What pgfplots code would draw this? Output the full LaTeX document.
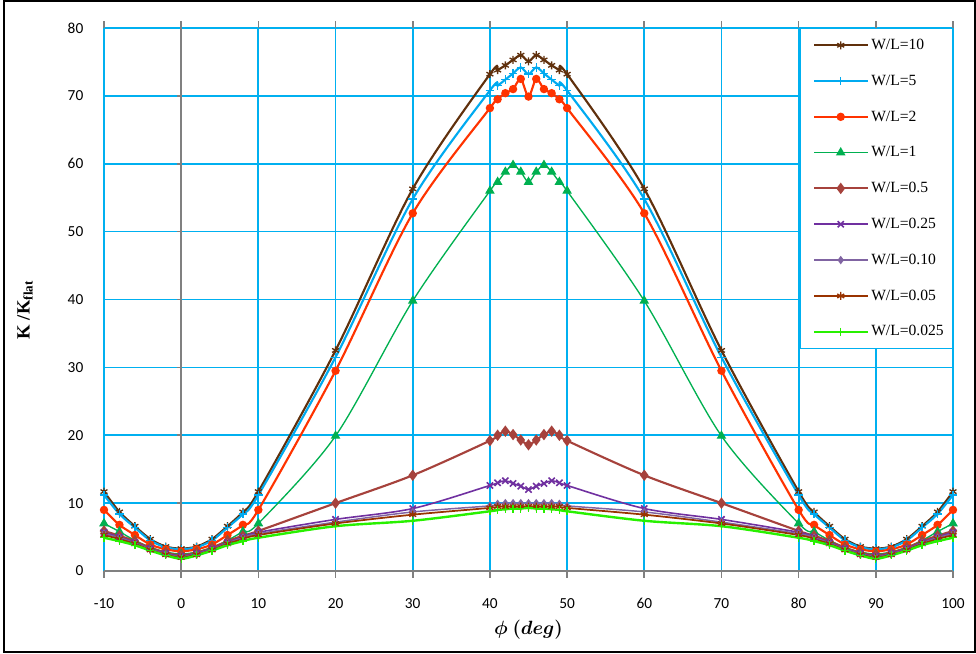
\documentclass[border=0pt]{standalone}
\usepackage{pgfplots}
\usepackage{pgfplotstable}
\pgfplotsset{compat=1.18}
\usepackage{amsmath}
\usepackage{fontspec}
\setmainfont{Liberation Serif}
\newfontfamily\carlito{Carlito}

\definecolor{gridblue}{RGB}{0,176,240}
\definecolor{cA}{RGB}{96,48,12}
\definecolor{cB}{RGB}{0,170,240}
\definecolor{cC}{RGB}{255,51,0}
\definecolor{cD}{RGB}{0,176,80}
\definecolor{cE}{RGB}{166,66,60}
\definecolor{cF}{RGB}{112,48,160}
\definecolor{cG}{RGB}{128,100,162}
\definecolor{cH}{RGB}{153,51,0}
\definecolor{cI}{RGB}{40,240,0}

% phi, then W/L = 10, 5, 2, 1, 0.5, 0.25, 0.10, 0.05, 0.025
\pgfplotstableread{
x    a     b     c     d     e     f     g     h     i
-10  11.7  11.2  9.0   7.0   5.9   5.7   5.5   5.3   4.9
-8   8.7   8.4   6.8   5.8   5.2   5.0   4.9   4.7   4.4
-6   6.6   6.4   5.3   4.5   4.4   4.2   4.1   4.0   3.8
-4   4.7   4.5   3.9   3.5   3.4   3.3   3.2   3.1   3.0
-2   3.6   3.5   3.2   2.8   2.7   2.6   2.5   2.4   2.3
0    3.3   3.2   2.9   2.5   2.3   2.2   2.1   2.0   1.8
2    3.6   3.5   3.2   2.8   2.7   2.6   2.5   2.4   2.3
4    4.7   4.5   3.9   3.5   3.4   3.3   3.2   3.1   3.0
6    6.6   6.4   5.3   4.5   4.4   4.2   4.1   4.0   3.8
8    8.7   8.4   6.8   5.8   5.2   5.0   4.9   4.7   4.4
10   11.7  11.2  9.0   7.0   5.9   5.7   5.5   5.3   4.9
20   32.5  31.5  29.5  19.9  10.0  7.6   7.2   7.0   6.6
30   56.3  54.8  52.7  39.8  14.1  9.2   8.7   8.3   7.4
40   73.2  70.8  68.2  56.0  19.2  12.6  9.6   9.3   8.8
41   73.8  71.5  69.5  57.3  20.0  13.0  9.9   9.5   9.0
42   74.5  72.4  70.4  58.8  20.6  13.3  10.0  9.5   9.1
43   75.3  73.3  71.0  59.8  20.1  12.9  10.0  9.5   9.2
44   76.0  74.2  72.5  58.8  19.3  12.5  10.0  9.5   9.2
45   75.1  73.2  69.9  57.3  18.6  12.0  10.0  9.5   9.3
46   76.0  74.2  72.5  58.8  19.3  12.5  10.0  9.5   9.2
47   75.3  73.3  71.0  59.8  20.1  12.9  10.0  9.5   9.2
48   74.5  72.4  70.4  58.8  20.6  13.3  10.0  9.5   9.1
49   73.8  71.5  69.5  57.3  20.0  13.0  9.9   9.5   9.0
50   73.2  70.8  68.2  56.0  19.2  12.6  9.6   9.3   8.8
60   56.3  54.8  52.7  39.8  14.1  9.2   8.7   8.3   7.4
70   32.5  31.5  29.5  19.9  10.0  7.6   7.2   7.0   6.6
80   11.7  11.2  9.0   7.0   5.9   5.7   5.5   5.3   4.9
82   8.7   8.4   6.8   5.8   5.2   5.0   4.9   4.7   4.4
84   6.6   6.4   5.3   4.5   4.4   4.2   4.1   4.0   3.8
86   4.7   4.5   3.9   3.5   3.4   3.3   3.2   3.1   3.0
88   3.6   3.5   3.2   2.8   2.7   2.6   2.5   2.4   2.3
90   3.3   3.2   2.9   2.5   2.3   2.2   2.1   2.0   1.8
92   3.6   3.5   3.2   2.8   2.7   2.6   2.5   2.4   2.3
94   4.7   4.5   3.9   3.5   3.4   3.3   3.2   3.1   3.0
96   6.6   6.4   5.3   4.5   4.4   4.2   4.1   4.0   3.8
98   8.7   8.4   6.8   5.8   5.2   5.0   4.9   4.7   4.4
100  11.7  11.2  9.0   7.0   5.9   5.7   5.5   5.3   4.9
}\kdata

\begin{document}
\begin{tikzpicture}
\path[use as bounding box] (0pt,0pt) rectangle (732pt,490.5pt);
\draw[black,line width=1pt] (3pt,1.5pt) rectangle (731.25pt,489.75pt);

\begin{axis}[
    at={(78pt,62.25pt)},
    anchor=south west,
    scale only axis,
    width=636.75pt,
    height=407.25pt,
    xmin=-10, xmax=100,
    ymin=0, ymax=80,
    xtick={-10,0,10,20,30,40,50,60,70,80,90,100},
    xticklabels={-10,0,10,20,30,40,50,60,70,80,90,100},
    ytick={0,10,20,30,40,50,60,70,80},
    yticklabels={0,10,20,30,40,50,60,70,80},
    grid=major,
    major grid style={color=gridblue,line width=1.3pt},
    axis line style={color=white,opacity=0},
    tick align=outside,
    major tick length=5pt,
    xtick style={color=gray,line width=1.2pt},
    ytick style={opacity=0},
    ticklabel style={font=\carlito\fontsize{11.5}{13}\selectfont},
    xticklabel style={yshift=-12pt},
    yticklabel style={xshift=-7pt},
    xlabel={$\boldsymbol{\phi}\ \boldsymbol{(deg)}$},
    xlabel style={font=\fontsize{14}{16}\selectfont,
        at={(axis description cs:0.5,0)},anchor=center,yshift=-44pt},
    legend style={
        at={(1,1)},anchor=north east,
        draw=gridblue,line width=0.6pt,fill=white,
        font=\fontsize{11.7}{13}\selectfont,
        row sep=13.6pt,inner xsep=9pt,inner ysep=6pt,
        nodes={text width=50pt}
    },
    legend cell align=left,
    legend image code/.code={%
        \draw[mark repeat=2,mark phase=2]
          plot coordinates {(0pt,0pt) (20pt,0pt) (40pt,0pt)};},
]
\draw[gray,line width=1.2pt] (axis cs:-10,0) -- (axis cs:100,0);
\draw[gray,line width=1.2pt] (axis cs:0,0) -- (axis cs:0,80);
\draw[gray,line width=1.2pt] ([xshift=-3pt]axis cs:0,10) -- (axis cs:0,10);
\draw[gray,line width=1.2pt] ([xshift=-3pt]axis cs:0,20) -- (axis cs:0,20);
\draw[gray,line width=1.2pt] ([xshift=-3pt]axis cs:0,30) -- (axis cs:0,30);
\draw[gray,line width=1.2pt] ([xshift=-3pt]axis cs:0,40) -- (axis cs:0,40);
\draw[gray,line width=1.2pt] ([xshift=-3pt]axis cs:0,50) -- (axis cs:0,50);
\draw[gray,line width=1.2pt] ([xshift=-3pt]axis cs:0,60) -- (axis cs:0,60);
\draw[gray,line width=1.2pt] ([xshift=-3pt]axis cs:0,70) -- (axis cs:0,70);

\addplot[color=cA,smooth,line width=1.6pt,mark=asterisk,mark size=3pt,
  mark options={solid,line width=1pt}] table[x=x,y=a] {\kdata};
\addlegendentry{{W/L=10}}
\addplot[color=cB,smooth,line width=1.6pt,mark=+,mark size=3.2pt,
  mark options={solid,line width=1pt}] table[x=x,y=b] {\kdata};
\addlegendentry{{W/L=5}}
\addplot[color=cC,smooth,line width=1.6pt,mark=*,mark size=2.3pt] table[x=x,y=c] {\kdata};
\addlegendentry{{W/L=2}}
\addplot[color=cD,smooth,line width=1pt,mark=triangle*,mark size=3.2pt] table[x=x,y=d] {\kdata};
\addlegendentry{{W/L=1}}
\addplot[color=cE,smooth,line width=1.6pt,mark=diamond*,mark size=3pt] table[x=x,y=e] {\kdata};
\addlegendentry{{W/L=0.5}}
\addplot[color=cF,smooth,line width=1.2pt,mark=x,mark size=3.3pt,
  mark options={solid,line width=1.2pt}] table[x=x,y=f] {\kdata};
\addlegendentry{{W/L=0.25}}
\addplot[color=cG,smooth,line width=1.1pt,mark=diamond*,mark size=2.3pt] table[x=x,y=g] {\kdata};
\addlegendentry{{W/L=0.10}}
\addplot[color=cH,smooth,line width=1.3pt,mark=asterisk,mark size=3pt,
  mark options={solid,line width=1pt}] table[x=x,y=h] {\kdata};
\addlegendentry{{W/L=0.05}}
\addplot[color=cI,smooth,line width=1.8pt,mark=+,mark size=3pt,
  mark options={solid,line width=1pt}] table[x=x,y=i] {\kdata};
\addlegendentry{{W/L=0.025}}
\end{axis}

\node[rotate=90,font=\fontsize{14}{16}\selectfont] at (18.75pt,258pt)
  {\textbf{K /K\textsubscript{flat}}};
\end{tikzpicture}
\end{document}
